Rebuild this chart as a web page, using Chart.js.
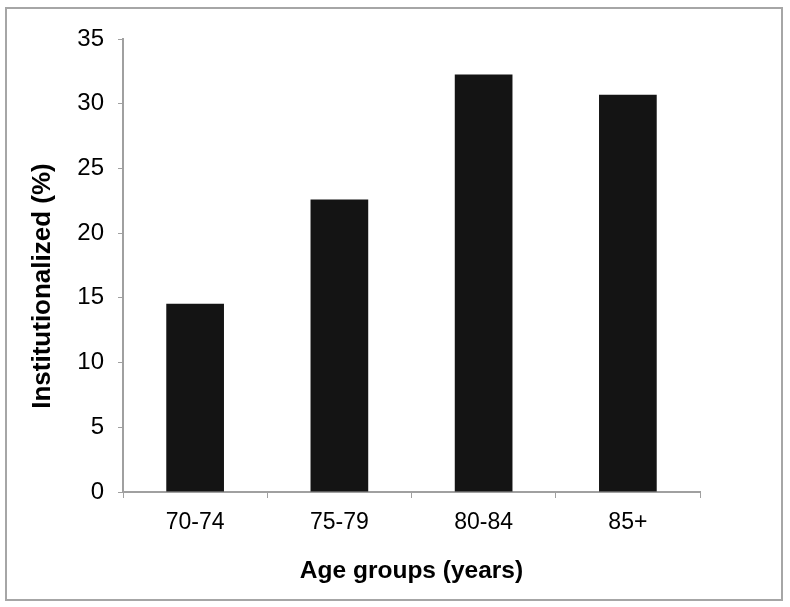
<!DOCTYPE html>
<html lang="en">
<head>
    <meta charset="UTF-8">
    <title>Institutionalized by age group</title>
    <script src="https://cdn.jsdelivr.net/npm/chart.js"></script>
    <style>
        html, body { margin: 0; padding: 0; background: #fff; }
        .wrap { position: relative; width: 790px; height: 607px; }
        .frame {
            position: absolute; left: 5px; top: 7px; width: 774px; height: 590px;
            border: 2px solid #a6a6a6; pointer-events: none;
        }
        canvas { position: absolute; left: 0; top: 0; }
    </style>
</head>
<body>
    <div class="wrap">
        <canvas id="grafico" width="790" height="607"></canvas>
        <div class="frame"></div>
    </div>

    <script>
    const categorias = ['70-74', '75-79', '80-84', '85+'];
    const institucionalizados = [14.55, 22.6, 32.25, 30.7];
    const yTicks = [0, 5, 10, 15, 20, 25, 30, 35];
    const tituloEixoY = 'Institutionalized (%)';

    const eixoCor = '#a0a0a0';
    const fonte = 'Liberation Sans, Arial, sans-serif';

    // y title drawn by hand: in the original it sits a bit below the axis middle
    const tituloY = {
        id: 'tituloY',
        afterDraw(c) {
            const g = c.ctx;
            g.save();
            g.translate(43, 286);
            g.rotate(-Math.PI / 2);
            g.font = 'bold 26px ' + fonte;
            g.fillStyle = '#000';
            g.textAlign = 'center';
            g.textBaseline = 'middle';
            g.fillText(tituloEixoY, 0, 0);
            g.restore();
        }
    };

    const ctx = document.getElementById('grafico').getContext('2d');
    const chart = new Chart(ctx, {
        type: 'bar',
        data: {
            labels: categorias,
            datasets: [{
                data: institucionalizados,
                backgroundColor: '#141414',
                borderWidth: 0,
                barPercentage: 0.4,
                categoryPercentage: 1.0
            }]
        },
        options: {
            responsive: false,
            animation: false,
            layout: { padding: { top: 39, right: 90, left: 0, bottom: 0 } },
            plugins: { legend: { display: false }, tooltip: { enabled: false } },
            scales: {
                x: {
                    grid: { drawOnChartArea: false, drawTicks: true, tickLength: 6, color: eixoCor, offset: true },
                    border: { color: eixoCor, width: 2 },
                    ticks: { color: '#000', font: { family: fonte, size: 23 }, padding: 11 },
                    title: {
                        display: true, text: 'Age groups (years)', color: '#000',
                        font: { family: fonte, size: 24.5, weight: 'bold' },
                        padding: { top: 0, bottom: 21 }
                    },
                    afterFit: s => { s.height = 607 - 492; }
                },
                y: {
                    min: 0, max: 35,
                    afterBuildTicks: s => { s.ticks = yTicks.map(v => ({ value: v })); },
                    grid: { drawOnChartArea: false, drawTicks: true, tickLength: 5, color: eixoCor },
                    border: { color: eixoCor, width: 2 },
                    ticks: { color: '#000', font: { family: fonte, size: 24 }, padding: 14 },
                    afterFit: s => { s.width = 123; }
                }
            }
        },
        plugins: [tituloY]
    });
    </script>
</body>
</html>
